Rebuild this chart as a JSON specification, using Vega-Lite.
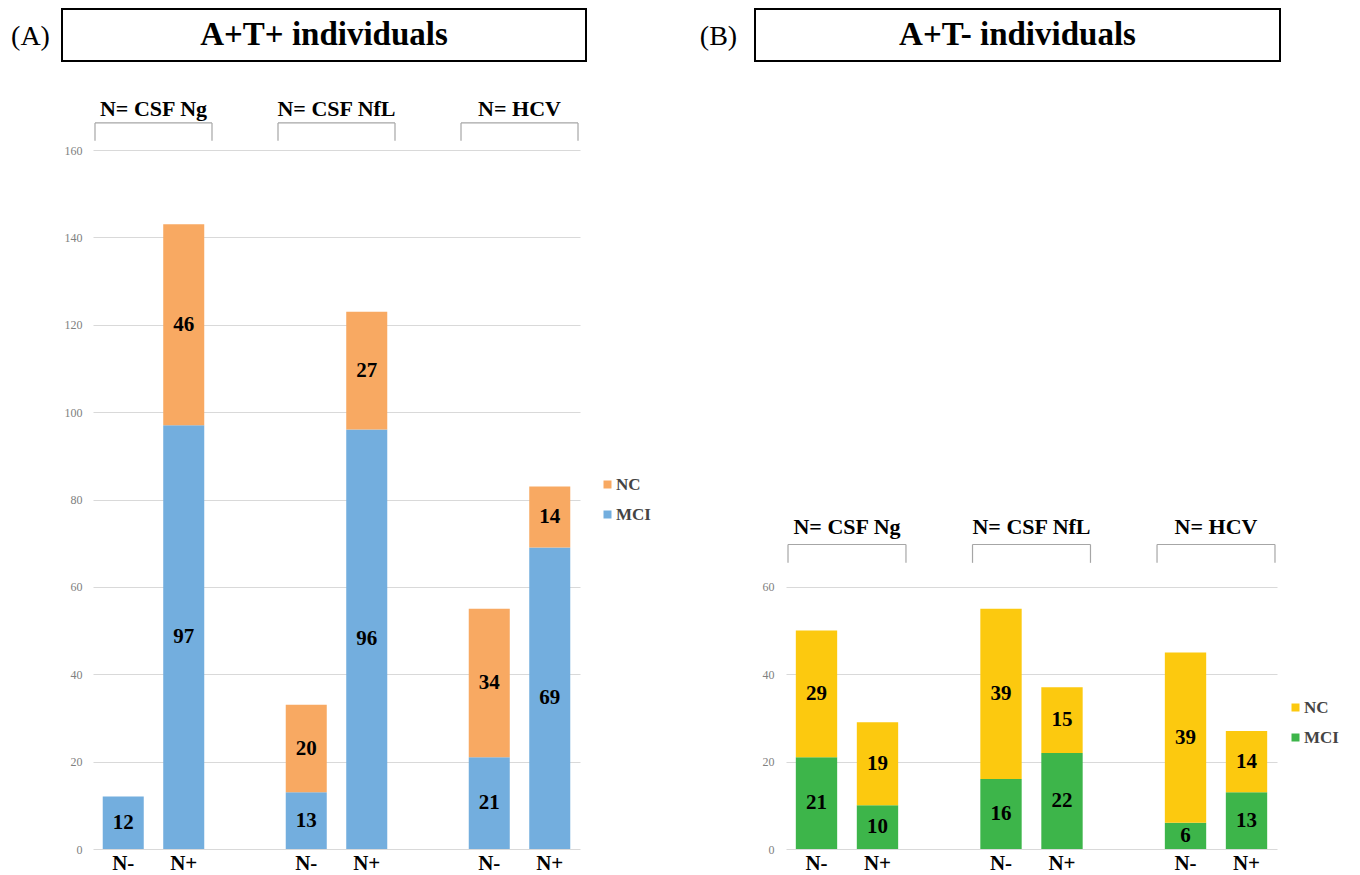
{
  "$schema": "https://vega.github.io/schema/vega-lite/v6.json",
  "padding": {"left": 10, "top": 7, "right": 5, "bottom": 0},
  "background": "white",
  "config": {
    "view": {"stroke": null},
    "font": "Liberation Serif",
    "legend": {
      "labelFont": "Liberation Serif",
      "labelFontWeight": "bold",
      "labelFontSize": 17,
      "labelColor": "#444444",
      "symbolType": "square",
      "symbolSize": 64,
      "rowPadding": 12,
      "padding": 0,
      "labelOffset": 0
    }
  },
  "datasets": {
    "barsA": [
      {"group": "CSF Ng", "status": "N-", "dx": "MCI", "n": 12},
      {"group": "CSF Ng", "status": "N+", "dx": "MCI", "n": 97},
      {"group": "CSF Ng", "status": "N+", "dx": "NC", "n": 46},
      {"group": "CSF NfL", "status": "N-", "dx": "MCI", "n": 13},
      {"group": "CSF NfL", "status": "N-", "dx": "NC", "n": 20},
      {"group": "CSF NfL", "status": "N+", "dx": "MCI", "n": 96},
      {"group": "CSF NfL", "status": "N+", "dx": "NC", "n": 27},
      {"group": "HCV", "status": "N-", "dx": "MCI", "n": 21},
      {"group": "HCV", "status": "N-", "dx": "NC", "n": 34},
      {"group": "HCV", "status": "N+", "dx": "MCI", "n": 69},
      {"group": "HCV", "status": "N+", "dx": "NC", "n": 14}
    ],
    "barsB": [
      {"group": "CSF Ng", "status": "N-", "dx": "MCI", "n": 21},
      {"group": "CSF Ng", "status": "N-", "dx": "NC", "n": 29},
      {"group": "CSF Ng", "status": "N+", "dx": "MCI", "n": 10},
      {"group": "CSF Ng", "status": "N+", "dx": "NC", "n": 19},
      {"group": "CSF NfL", "status": "N-", "dx": "MCI", "n": 16},
      {"group": "CSF NfL", "status": "N-", "dx": "NC", "n": 39},
      {"group": "CSF NfL", "status": "N+", "dx": "MCI", "n": 22},
      {"group": "CSF NfL", "status": "N+", "dx": "NC", "n": 15},
      {"group": "HCV", "status": "N-", "dx": "MCI", "n": 6},
      {"group": "HCV", "status": "N-", "dx": "NC", "n": 39},
      {"group": "HCV", "status": "N+", "dx": "MCI", "n": 13},
      {"group": "HCV", "status": "N+", "dx": "NC", "n": 14}
    ],
    "groups": [
      {"group": "CSF Ng", "label": "N= CSF Ng"},
      {"group": "CSF NfL", "label": "N= CSF NfL"},
      {"group": "HCV", "label": "N= HCV"}
    ],
    "titleA": [{"title": "A+T+ individuals"}],
    "titleB": [{"title": "A+T- individuals"}]
  },
  "spacing": 169,
  "bounds": "flush",
  "resolve": {
    "scale": {"color": "independent", "x": "independent", "y": "independent", "xOffset": "independent"},
    "legend": {"color": "independent"}
  },
  "hconcat": [
    {
      "width": 524,
      "height": 699,
      "layer": [
        {
          "data": {"name": "barsA"},
          "transform": [
            {"stack": "n", "groupby": ["group", "status"], "sort": [{"field": "dx", "order": "ascending"}], "as": ["lo", "hi"]}
          ],
          "mark": {"type": "bar"},
          "encoding": {
            "x": {"field": "group", "type": "nominal", "axis": null,
                  "scale": {"domain": ["CSF Ng", "CSF NfL", "HCV"], "range": [31, 518], "paddingInner": 0.3607, "paddingOuter": 0.0109}},
            "xOffset": {"field": "status", "type": "nominal",
                        "scale": {"domain": ["N-", "N+"], "paddingInner": 0.322, "paddingOuter": 0.128}},
            "y": {"field": "lo", "type": "quantitative",
                  "scale": {"domain": [0, 160], "nice": false, "zero": true},
                  "axis": {"values": [0, 20, 40, 60, 80, 100, 120, 140, 160], "offset": -31, "domain": false, "ticks": false, "tickSize": 0,
                           "grid": true, "gridColor": "#d9d9d9", "gridWidth": 1.2,
                           "labelFont": "Liberation Serif", "labelFontSize": 12, "labelColor": "#808080", "labelPadding": 11,
                           "title": "(A)", "titleAngle": 0, "titleX": -63, "titleY": -114, "titleAlign": "center", "titleBaseline": "middle",
                           "titleFont": "Liberation Serif", "titleFontSize": 28, "titleFontWeight": "normal", "titleColor": "black"}},
            "y2": {"field": "hi"},
            "color": {"field": "dx", "type": "nominal",
                      "scale": {"domain": ["NC", "MCI"], "range": ["#F8A962", "#73AEDE"]},
                      "legend": {"orient": "none", "legendX": 537, "legendY": 326, "title": null}}
          }
        },
        {
          "data": {"name": "barsA"},
          "transform": [
            {"stack": "n", "groupby": ["group", "status"], "sort": [{"field": "dx", "order": "ascending"}], "as": ["lo", "hi"]},
            {"fold": ["lo", "hi"], "as": ["edge", "v"]},
            {"aggregate": [{"op": "mean", "field": "v", "as": "mid"}], "groupby": ["group", "status", "dx", "n"]}
          ],
          "mark": {"type": "text", "font": "Liberation Serif", "fontWeight": "bold", "fontSize": 21, "color": "black", "baseline": "middle"},
          "encoding": {
            "x": {"field": "group", "type": "nominal"},
            "xOffset": {"field": "status", "type": "nominal"},
            "y": {"field": "mid", "type": "quantitative"},
            "text": {"field": "n", "type": "quantitative"}
          }
        },
        {
          "data": {"name": "barsA"},
          "transform": [{"filter": "datum.dx === 'MCI'"}],
          "mark": {"type": "text", "font": "Liberation Serif", "fontWeight": "bold", "fontSize": 21, "color": "black", "baseline": "alphabetic", "dy": 21},
          "encoding": {
            "x": {"field": "group", "type": "nominal"},
            "xOffset": {"field": "status", "type": "nominal"},
            "y": {"datum": 0},
            "text": {"field": "status", "type": "nominal"}
          }
        },
        {
          "data": {"name": "groups"},
          "mark": {"type": "text", "font": "Liberation Serif", "fontWeight": "bold", "fontSize": 22, "color": "black", "baseline": "alphabetic"},
          "encoding": {
            "x": {"field": "group", "type": "nominal"},
            "y": {"datum": 167.8},
            "text": {"field": "label", "type": "nominal"}
          }
        },
        {
          "data": {"name": "groups"},
          "mark": {"type": "rule", "color": "#a6a6a6", "strokeWidth": 1.2},
          "encoding": {
            "x": {"field": "group", "type": "nominal", "bandPosition": 0},
            "y": {"datum": 166.2},
            "y2": {"datum": 162.1}
          }
        },
        {
          "data": {"name": "groups"},
          "mark": {"type": "rule", "color": "#a6a6a6", "strokeWidth": 1.2},
          "encoding": {
            "x": {"field": "group", "type": "nominal", "bandPosition": 1},
            "y": {"datum": 166.2},
            "y2": {"datum": 162.1}
          }
        },
        {
          "data": {"name": "groups"},
          "mark": {"type": "rule", "color": "#a6a6a6", "strokeWidth": 1.2},
          "encoding": {
            "x": {"field": "group", "type": "nominal", "bandPosition": 0},
            "x2": {"field": "group", "bandPosition": 1},
            "y": {"datum": 166.2}
          }
        },
        {
          "data": {"name": "titleA"},
          "mark": {"type": "rect", "fill": "transparent", "stroke": "black", "strokeWidth": 2},
          "encoding": {
            "y": {"datum": 192.3},
            "y2": {"datum": 180.4}
          }
        },
        {
          "data": {"name": "titleA"},
          "mark": {"type": "text", "font": "Liberation Serif", "fontWeight": "bold", "fontSize": 33, "color": "black", "baseline": "middle"},
          "encoding": {
            "y": {"datum": 186.3},
            "text": {"field": "title", "type": "nominal"}
          }
        }
      ]
    },
    {
      "width": 525,
      "height": 699,
      "layer": [
        {
          "data": {"name": "barsB"},
          "transform": [
            {"stack": "n", "groupby": ["group", "status"], "sort": [{"field": "dx", "order": "ascending"}], "as": ["lo", "hi"]}
          ],
          "mark": {"type": "bar"},
          "encoding": {
            "x": {"field": "group", "type": "nominal", "axis": null,
                  "scale": {"domain": ["CSF Ng", "CSF NfL", "HCV"], "range": [31, 522], "paddingInner": 0.3607, "paddingOuter": 0.0109}},
            "xOffset": {"field": "status", "type": "nominal",
                        "scale": {"domain": ["N-", "N+"], "paddingInner": 0.322, "paddingOuter": 0.128}},
            "y": {"field": "lo", "type": "quantitative",
                  "scale": {"domain": [0, 160], "nice": false, "zero": true},
                  "axis": {"values": [0, 20, 40, 60], "offset": -31, "domain": false, "ticks": false, "tickSize": 0,
                           "grid": true, "gridColor": "#d9d9d9", "gridWidth": 1.2,
                           "labelFont": "Liberation Serif", "labelFontSize": 12, "labelColor": "#808080", "labelPadding": 12,
                           "title": "(B)", "titleAngle": 0, "titleX": -68, "titleY": -114, "titleAlign": "center", "titleBaseline": "middle",
                           "titleFont": "Liberation Serif", "titleFontSize": 28, "titleFontWeight": "normal", "titleColor": "black"}},
            "y2": {"field": "hi"},
            "color": {"field": "dx", "type": "nominal",
                      "scale": {"domain": ["NC", "MCI"], "range": ["#FCC90F", "#3DB54A"]},
                      "legend": {"orient": "none", "legendX": 532, "legendY": 549, "title": null}}
          }
        },
        {
          "data": {"name": "barsB"},
          "transform": [
            {"stack": "n", "groupby": ["group", "status"], "sort": [{"field": "dx", "order": "ascending"}], "as": ["lo", "hi"]},
            {"fold": ["lo", "hi"], "as": ["edge", "v"]},
            {"aggregate": [{"op": "mean", "field": "v", "as": "mid"}], "groupby": ["group", "status", "dx", "n"]}
          ],
          "mark": {"type": "text", "font": "Liberation Serif", "fontWeight": "bold", "fontSize": 21, "color": "black", "baseline": "middle"},
          "encoding": {
            "x": {"field": "group", "type": "nominal"},
            "xOffset": {"field": "status", "type": "nominal"},
            "y": {"field": "mid", "type": "quantitative"},
            "text": {"field": "n", "type": "quantitative"}
          }
        },
        {
          "data": {"name": "barsB"},
          "transform": [{"filter": "datum.dx === 'MCI'"}],
          "mark": {"type": "text", "font": "Liberation Serif", "fontWeight": "bold", "fontSize": 21, "color": "black", "baseline": "alphabetic", "dy": 21},
          "encoding": {
            "x": {"field": "group", "type": "nominal"},
            "xOffset": {"field": "status", "type": "nominal"},
            "y": {"datum": 0},
            "text": {"field": "status", "type": "nominal"}
          }
        },
        {
          "data": {"name": "groups"},
          "mark": {"type": "text", "font": "Liberation Serif", "fontWeight": "bold", "fontSize": 22, "color": "black", "baseline": "alphabetic"},
          "encoding": {
            "x": {"field": "group", "type": "nominal"},
            "y": {"datum": 72.1},
            "text": {"field": "label", "type": "nominal"}
          }
        },
        {
          "data": {"name": "groups"},
          "mark": {"type": "rule", "color": "#a6a6a6", "strokeWidth": 1.2},
          "encoding": {
            "x": {"field": "group", "type": "nominal", "bandPosition": 0},
            "y": {"datum": 69.7},
            "y2": {"datum": 65.5}
          }
        },
        {
          "data": {"name": "groups"},
          "mark": {"type": "rule", "color": "#a6a6a6", "strokeWidth": 1.2},
          "encoding": {
            "x": {"field": "group", "type": "nominal", "bandPosition": 1},
            "y": {"datum": 69.7},
            "y2": {"datum": 65.5}
          }
        },
        {
          "data": {"name": "groups"},
          "mark": {"type": "rule", "color": "#a6a6a6", "strokeWidth": 1.2},
          "encoding": {
            "x": {"field": "group", "type": "nominal", "bandPosition": 0},
            "x2": {"field": "group", "bandPosition": 1},
            "y": {"datum": 69.7}
          }
        },
        {
          "data": {"name": "titleB"},
          "mark": {"type": "rect", "fill": "transparent", "stroke": "black", "strokeWidth": 2},
          "encoding": {
            "y": {"datum": 192.3},
            "y2": {"datum": 180.4}
          }
        },
        {
          "data": {"name": "titleB"},
          "mark": {"type": "text", "font": "Liberation Serif", "fontWeight": "bold", "fontSize": 33, "color": "black", "baseline": "middle"},
          "encoding": {
            "y": {"datum": 186.3},
            "text": {"field": "title", "type": "nominal"}
          }
        }
      ]
    }
  ]
}
